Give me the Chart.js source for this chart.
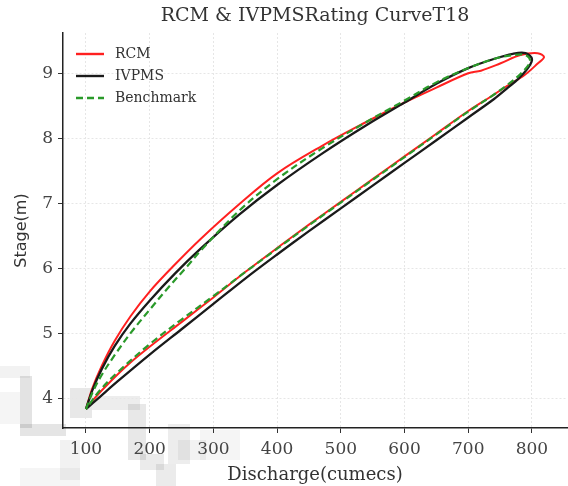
<!DOCTYPE html>
<html>
<head>
<meta charset="utf-8">
<script src="https://cdn.jsdelivr.net/npm/chart.js@4.4.0/dist/chart.umd.min.js"></script>
<style>
  html, body { margin: 0; padding: 0; background: #fff; }
  canvas { display: block; }
</style>
</head>
<body>
<canvas id="chart" width="568" height="486"></canvas>
<script>
// each loop: rising limb -> peak -> falling limb back to the start point
const rcmQ = [100, 110, 125, 145, 170, 200, 240, 280, 340, 400, 470, 540, 600, 650, 700, 720, 750, 782, 809, 819,
              809, 788, 760, 740, 700, 650, 600, 550, 500, 450, 400, 350, 300, 250, 200, 169, 140, 111, 100];
const rcmH = [3.83, 4.15, 4.50, 4.88, 5.26, 5.64, 6.06, 6.45, 6.98, 7.46, 7.88, 8.25, 8.55, 8.78, 9.00, 9.04, 9.15, 9.28, 9.31, 9.25,
              9.15, 8.97, 8.80, 8.67, 8.42, 8.07, 7.72, 7.37, 7.02, 6.67, 6.31, 5.94, 5.55, 5.17, 4.79, 4.54, 4.27, 3.97, 3.83];

const ivpmsQ = [100, 110, 125, 145, 170, 200, 240, 280, 340, 400, 470, 540, 600, 650, 700, 740, 770, 790, 800,
                795, 780, 760, 740, 700, 650, 600, 550, 500, 450, 400, 350, 300, 250, 200, 150, 122, 100];
const ivpmsH = [3.83, 4.12, 4.45, 4.80, 5.15, 5.50, 5.92, 6.30, 6.82, 7.28, 7.76, 8.20, 8.55, 8.84, 9.08, 9.22, 9.30, 9.31, 9.22,
                9.10, 8.93, 8.76, 8.60, 8.32, 7.97, 7.62, 7.27, 6.92, 6.57, 6.21, 5.84, 5.45, 5.06, 4.67, 4.26, 4.02, 3.83];

const benchQ = [100, 110, 125, 145, 170, 200, 230, 260, 280, 340, 400, 470, 540, 600, 650, 700, 740, 770, 790, 797,
                782, 760, 740, 700, 650, 600, 550, 500, 450, 400, 350, 300, 250, 200, 150, 122, 100];
const benchH = [3.83, 4.08, 4.36, 4.66, 5.00, 5.36, 5.71, 6.04, 6.27, 6.88, 7.37, 7.84, 8.25, 8.58, 8.86, 9.08, 9.22, 9.28, 9.28, 9.18,
                8.99, 8.81, 8.67, 8.41, 8.06, 7.71, 7.36, 7.01, 6.66, 6.30, 5.94, 5.57, 5.21, 4.83, 4.40, 4.12, 3.83];

const xTickVals = [100, 200, 300, 400, 500, 600, 700, 800];
const yTickVals = [4, 5, 6, 7, 8, 9];

const seriesNames = ['RCM', 'IVPMS', 'Benchmark'];
const seriesColors = ['#ff2020', '#1a1a1a', '#2a9a2a'];

const toPoints = (qs, hs) => qs.map((q, i) => ({ x: q, y: hs[i] }));

// faint pixelated smudge behind the lower-left corner
const smudge = [
  [0, 366, 30, 12, 0.05], [20, 376, 12, 52, 0.11], [20, 424, 46, 12, 0.1], [0, 392, 20, 32, 0.04],
  [70, 388, 22, 30, 0.09], [92, 396, 48, 14, 0.07], [128, 404, 18, 56, 0.09], [140, 454, 24, 16, 0.08],
  [156, 464, 20, 22, 0.08], [168, 424, 22, 40, 0.07], [178, 440, 28, 20, 0.05], [60, 440, 20, 40, 0.05],
  [20, 468, 60, 18, 0.04], [200, 430, 40, 30, 0.04]
];

const smudgePlugin = {
  id: 'smudge',
  beforeDraw(chart) {
    const ctx = chart.ctx;
    ctx.save();
    smudge.forEach(([x, y, w, h, a]) => {
      ctx.fillStyle = `rgba(0,0,0,${a})`;
      ctx.fillRect(x, y, w, h);
    });
    ctx.restore();
  }
};

const legendPlugin = {
  id: 'innerLegend',
  afterDraw(chart) {
    const ctx = chart.ctx;
    const x0 = chart.chartArea.left + 13;
    const y0 = chart.chartArea.top + 21;
    ctx.save();
    seriesNames.forEach((name, i) => {
      const y = y0 + i * 22;
      ctx.strokeStyle = seriesColors[i];
      ctx.lineWidth = 2.4;
      ctx.setLineDash(i === 2 ? [7, 4] : []);
      ctx.beginPath();
      ctx.moveTo(x0, y);
      ctx.lineTo(x0 + 28, y);
      ctx.stroke();
      ctx.setLineDash([]);
      ctx.fillStyle = '#333';
      ctx.font = '14px "DejaVu Serif"';
      ctx.textBaseline = 'middle';
      ctx.fillText(name, x0 + 39, y);
    });
    ctx.restore();
  }
};

new Chart(document.getElementById('chart').getContext('2d'), {
  type: 'scatter',
  data: {
    datasets: [
      { label: 'RCM', data: toPoints(rcmQ, rcmH), borderColor: seriesColors[0], borderWidth: 2, order: 3 },
      { label: 'IVPMS', data: toPoints(ivpmsQ, ivpmsH), borderColor: seriesColors[1], borderWidth: 2.3, order: 2 },
      { label: 'Benchmark', data: toPoints(benchQ, benchH), borderColor: seriesColors[2], borderWidth: 2.2,
        borderDash: [7, 4], order: 1 }
    ].map(d => Object.assign(d, { showLine: true, pointRadius: 0, tension: 0.35, fill: false }))
  },
  options: {
    responsive: false,
    animation: false,
    devicePixelRatio: 1,
    layout: { padding: { top: 0, right: 1, left: 0, bottom: 0 } },
    plugins: {
      legend: { display: false },
      tooltip: { enabled: false },
      title: {
        display: true,
        fullSize: false,
        text: 'RCM & IVPMSRating CurveT18',
        color: '#333',
        font: { family: 'DejaVu Serif', size: 19, weight: 'normal' },
        padding: { top: 5, bottom: 5.2 }
      }
    },
    scales: {
      x: {
        type: 'linear',
        min: 64,
        max: 855,
        afterFit: s => { s.height = 58; },
        afterBuildTicks: s => { s.ticks = xTickVals.map(v => ({ value: v })); },
        ticks: { color: '#444', font: { family: 'DejaVu Serif', size: 17 }, padding: 6, maxRotation: 0 },
        grid: { color: '#e6e6e6', lineWidth: 1, tickColor: '#333', tickLength: 5, tickBorderDash: [] },
        border: { color: '#222', width: 1.5, dash: [2, 2] },
        title: { display: true, text: 'Discharge(cumecs)', color: '#333',
                 font: { family: 'DejaVu Serif', size: 18 }, padding: { top: 2, bottom: 0 } }
      },
      y: {
        type: 'linear',
        min: 3.54,
        max: 9.62,
        afterFit: s => { s.width = 63; },
        afterBuildTicks: s => { s.ticks = yTickVals.map(v => ({ value: v })); },
        ticks: { color: '#444', font: { family: 'DejaVu Serif', size: 17 }, padding: 5 },
        grid: { color: '#e6e6e6', lineWidth: 1, tickColor: '#333', tickLength: 5, tickBorderDash: [] },
        border: { color: '#222', width: 1.5, dash: [2, 2] },
        title: { display: true, text: 'Stage(m)', color: '#333',
                 font: { family: 'DejaVu Sans', size: 16 }, padding: { top: 12, bottom: 0 } }
      }
    }
  },
  plugins: [smudgePlugin, legendPlugin]
});
</script>
</body>
</html>
